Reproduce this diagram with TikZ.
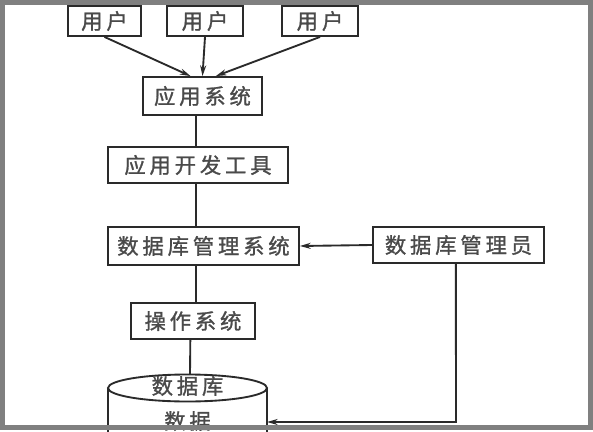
\documentclass[tikz,border=0pt]{standalone}
\usepackage{fontspec}
\usepackage{tikz}
\usetikzlibrary{arrows.meta}
\newfontfamily\cjk[LetterSpace=18, FakeBold=1.2]{Noto Sans CJK SC}
\definecolor{ink}{HTML}{2A2A2A}
\definecolor{rim}{HTML}{808080}

\begin{document}
\begin{tikzpicture}[x=0.75pt, y=-0.75pt, line width=1.4pt, draw=ink,
  box/.style={draw=ink, fill=white, inner sep=0pt, minimum height=27pt, font=\cjk\fontsize{16}{16}\selectfont, text=ink!85},
  arr/.style={-{Stealth[length=8pt, width=4.5pt]}}]
\useasboundingbox (0,0) rectangle (593,432);
\fill[white] (0,0) rectangle (593,432);
% users
\node[box, minimum width=54.75pt, minimum height=22.5pt] (u1) at (104.5,21) {用户};
\node[box, minimum width=57pt, minimum height=22.5pt] (u2) at (205,21) {用户};
\node[box, minimum width=57pt, minimum height=22.5pt] (u3) at (320,21) {用户};
% main column
\node[box, minimum width=89.25pt, minimum height=28.5pt] (app) at (202.5,96) {应用系统};
\node[box, minimum width=135pt] (tool) at (198,165) {应用开发工具};
\node[box, minimum width=143.25pt, minimum height=28.5pt] (dbms) at (203.5,246) {数据库管理系统};
\node[box, minimum width=128.25pt] (dba) at (458.5,245) {数据库管理员};
\node[box, minimum width=93pt] (os) at (193,321) {操作系统};
% database cylinder
\draw[fill=white] (108,388) -- (108,440) -- (267,440) -- (267,388);
\draw[fill=white] (187.5,388) ellipse [x radius=79.5, y radius=13.5];
\node[font=\cjk\fontsize{16}{16}\selectfont, text=ink!85] (dbname) at (187.5,386) {数据库};
\node[font=\cjk\fontsize{16}{16}\selectfont, text=ink!85] (data) at (187.5,421) {数据};
\coordinate (dbtop) at (190,374.5);
\coordinate (dbside) at (267,422);
\coordinate (bend) at (456,422);
% connectors
\draw[arr] (u1.south) -- ([xshift=-9]app.north);
\draw[arr] (u2.south) -- (app.north);
\draw[arr] (u3.south) -- ([xshift=10]app.north);
\draw ([xshift=-5]app.south) -- ([xshift=-5]app.south |- tool.north);
\draw ([xshift=-1.5]tool.south) -- ([xshift=-1.5]tool.south |- dbms.north);
\draw ([xshift=-5.5]dbms.south) -- ([xshift=-5.5]dbms.south |- os.north);
\draw ([xshift=-2]os.south) -- (dbtop);
\draw[arr] (dba.west) -- (dbms.east);
\draw[arr] ([xshift=-2]dba.south) -- (bend) -- (dbside);
% frame
\draw[rim, line width=3.75pt] (2.5,2.5) rectangle (590.5,427.5);
\end{tikzpicture}
\end{document}
